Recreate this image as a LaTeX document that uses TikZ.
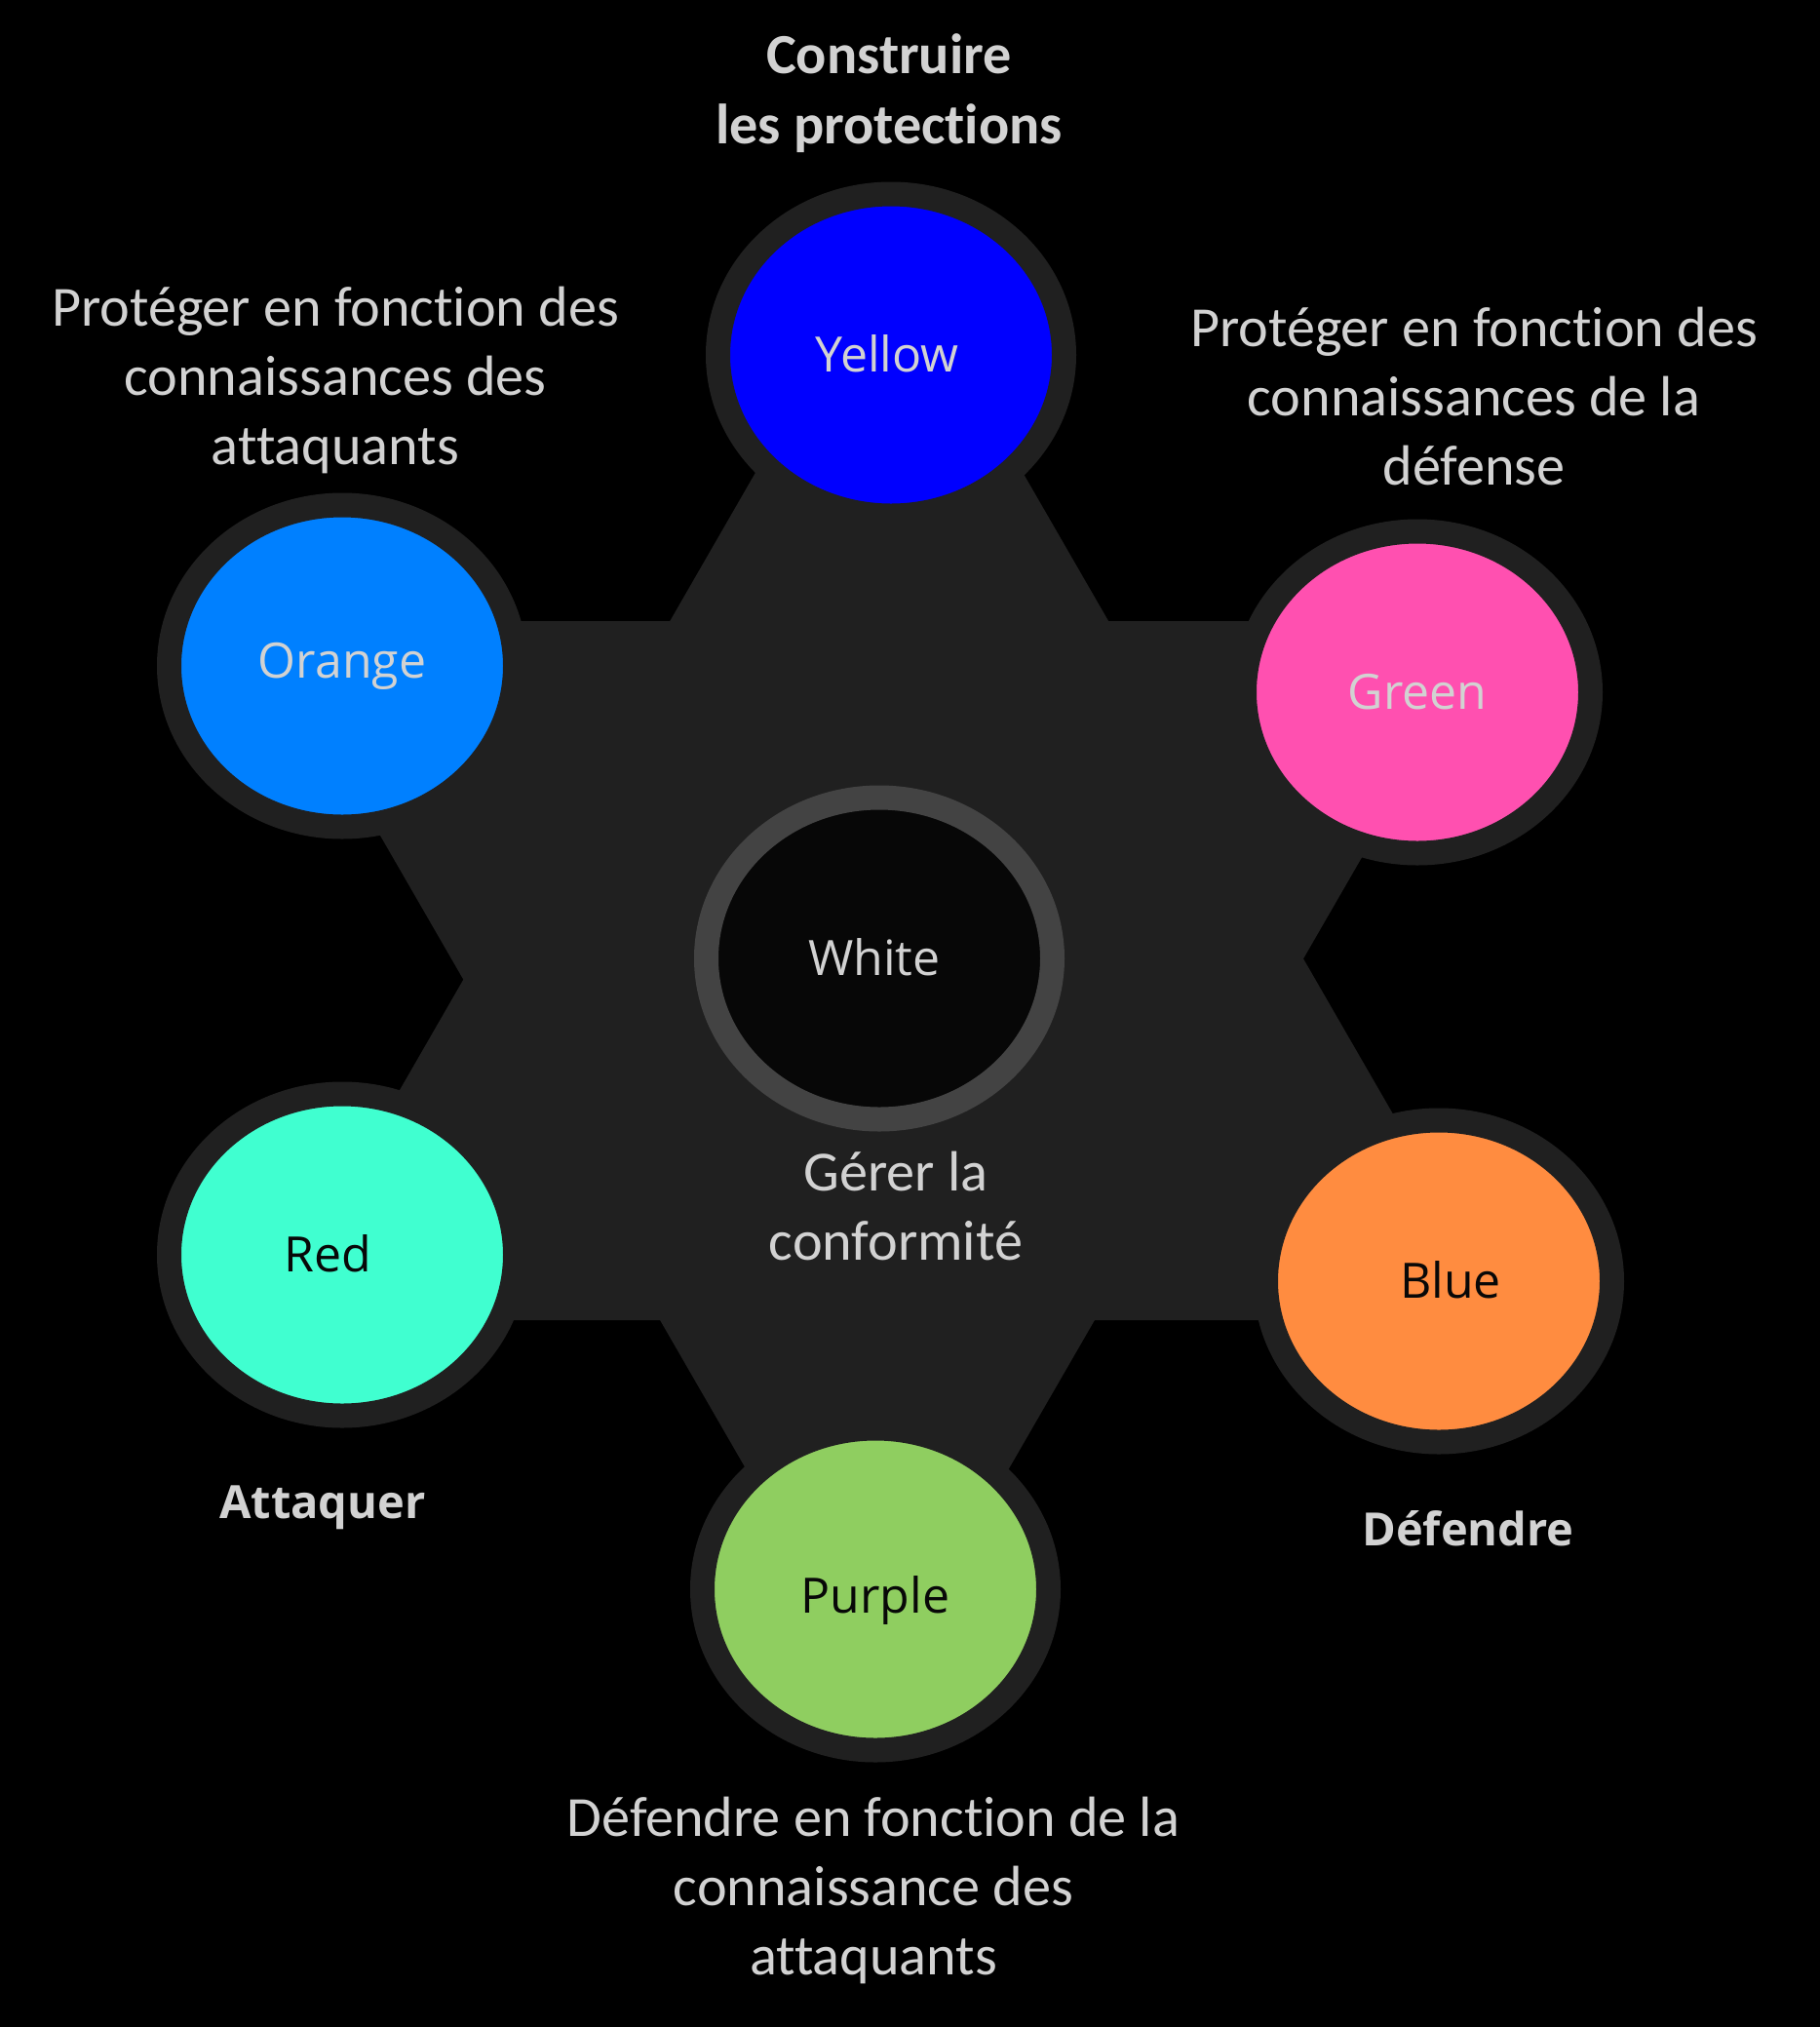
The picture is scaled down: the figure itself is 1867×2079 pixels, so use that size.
\documentclass[tikz,border=0pt]{standalone}
\usepackage{fontspec}
\setmainfont{Carlito}[Ligatures=NoCommon]
\newfontfamily\labelfamily{Open Sans}
\usepackage{tikz}
\usetikzlibrary{positioning,shapes.geometric}
\definecolor{ink}{RGB}{210,210,210}
\definecolor{darkink}{RGB}{8,8,8}
\definecolor{night}{RGB}{0,0,0}
\definecolor{hexgray}{RGB}{32,32,32}
\definecolor{hubring}{RGB}{67,67,67}
\definecolor{hubfill}{RGB}{7,7,7}
\definecolor{cblue}{RGB}{0,0,255}
\definecolor{cazure}{RGB}{0,128,255}
\definecolor{cpink}{RGB}{255,80,176}
\definecolor{caqua}{RGB}{64,255,208}
\definecolor{corange}{RGB}{255,140,64}
\definecolor{cgreen}{RGB}{143,206,96}
\tikzset{
  petal/.style={ellipse, draw=hexgray, line width=12.5pt, minimum width=177.5pt,
    minimum height=165pt, inner sep=0pt},
  hub/.style={petal, draw=hubring, fill=hubfill},
  lbl/.style={font=\labelfamily\fontsize{25}{30}\selectfont, text height=17.8pt,
    text depth=0pt, inner sep=0pt, text=ink},
  note/.style={align=center, font=\fontsize{29.1}{35.5}\selectfont, text=ink,
    inner sep=0pt},
  headline/.style={note, font=\bfseries\fontsize{29.1}{36}\selectfont},
  tag/.style={font=\labelfamily\bfseries\fontsize{23.5}{28}\selectfont, text=ink,
    text height=16.8pt, text depth=0pt, inner sep=0pt},
}
\begin{document}
\begin{tikzpicture}[x=0.5pt,y=-0.5pt]
  \fill[night] (0,0) rectangle (1867,2079);
  \useasboundingbox (0,0) rectangle (1867,2079);
  \fill[hexgray] (912,247) -- (274,1354) -- (1551,1354) -- cycle;
  \fill[hexgray] (900,1740) -- (263,637) -- (1537,637) -- cycle;
  \node[petal, fill=cblue] (yellow) at (914,364) {};
  \node[petal, fill=cazure] (orange) at (351,683) {};
  \node[petal, fill=cpink] (green) at (1454,710) {};
  \node[hub] (white) at (902,983) {};
  \node[petal, fill=caqua] (red) at (351,1287) {};
  \node[petal, fill=corange] (blue) at (1476,1314) {};
  \node[petal, fill=cgreen] (purple) at (898,1630) {};
  \node[lbl] (yellowtxt) at ([xshift=-2pt]yellow.center) {Yellow};
  \node[lbl] (orangetxt) at ([yshift=2.6pt]orange.center) {Orange};
  \node[lbl] (greentxt) at (green.center) {Green};
  \node[lbl] (whitetxt) at ([xshift=-2.6pt]white.center) {White};
  \node[lbl, text=darkink] (redtxt) at ([xshift=-7.3pt]red.center) {Red};
  \node[lbl, text=darkink] (bluetxt) at ([xshift=6pt]blue.center) {Blue};
  \node[lbl, text=darkink] (purpletxt) at ([yshift=-3.3pt]purple.center) {Purple};
  \node[headline] (build) at (912,96) {Construire\\les protections};
  \node[note] (attknow) at (344,390) {Protéger en fonction des\\connaissances des\\attaquants};
  \node[note] (defknow) at (1512,406) {Protéger en fonction des\\connaissances de la\\défense};
  \node[note] (comply) at (919,1237) {Gérer la\\conformité};
  \node[tag] (attack) at (331,1541) {Attaquer};
  \node[tag] (defend) at (1506,1569) {Défendre};
  \node[note] (defend2) at (896,1939) {Défendre en fonction de la\\connaissance des\\attaquants};
\end{tikzpicture}
\end{document}
